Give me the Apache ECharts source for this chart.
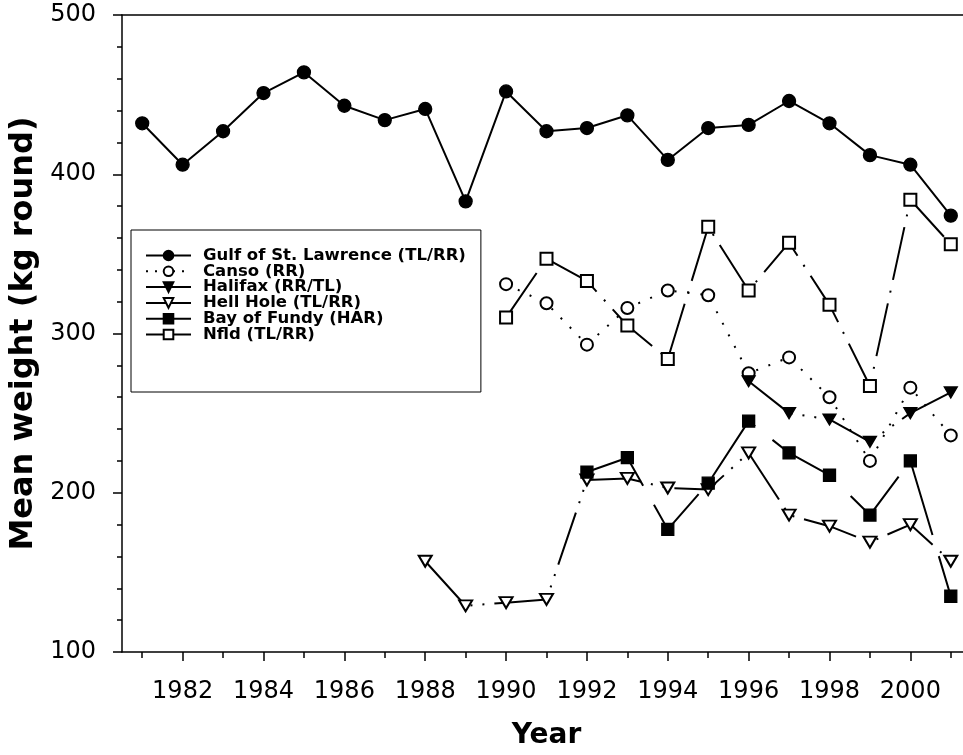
<!DOCTYPE html>
<html>
<head>
<meta charset="utf-8">
<script src="https://cdn.jsdelivr.net/npm/echarts@6/dist/echarts.min.js"></script>
<style>
  html, body { margin: 0; padding: 0; background: #fff; }
  #chart { width: 963px; height: 755px; }
</style>
</head>
<body>
<div id="chart"></div>
<script>
// values (mean weight, kg round)
const gulfYears = [1981, 1982, 1983, 1984, 1985, 1986, 1987, 1988, 1989, 1990, 1991, 1992, 1993, 1994, 1995, 1996, 1997, 1998, 1999, 2000, 2001]
const gulfWeight = [432, 406, 427, 451, 464, 443, 434, 441, 383, 452, 427, 429, 437, 409, 429, 431, 446, 432, 412, 406, 374]

const cansoYears = [1990, 1991, 1992, 1993, 1994, 1995, 1996, 1997, 1998, 1999, 2000, 2001]
const cansoWeight = [331, 319, 293, 316, 327, 324, 275, 285, 260, 220, 266, 236]

const halifaxYears = [1996, 1997, 1998, 1999, 2000, 2001]
const halifaxWeight = [270, 250, 246, 232, 250, 263]

const hellHoleYears = [1988, 1989, 1990, 1991, 1992, 1993, 1994, 1995, 1996, 1997, 1998, 1999, 2000, 2001]
const hellHoleWeight = [157, 129, 131, 133, 208, 209, 203, 202, 225, 186, 179, 169, 180, 157]

const fundyYears = [1992, 1993, 1994, 1995, 1996, 1997, 1998, 1999, 2000, 2001]
const fundyWeight = [213, 222, 177, 206, 245, 225, 211, 186, 220, 135]

const nfldYears = [1990, 1991, 1992, 1993, 1994, 1995, 1996, 1997, 1998, 1999, 2000, 2001]
const nfldWeight = [310, 347, 333, 305, 284, 367, 327, 357, 318, 267, 384, 356]

const labelYears = [1982, 1984, 1986, 1988, 1990, 1992, 1994, 1996, 1998, 2000]
const minorYears = [1981, 1983, 1985, 1987, 1989, 1991, 1993, 1995, 1997, 1999, 2001]

const pairs = (xs, ys) => xs.map((x, i) => [x, ys[i]])

const font = 'DejaVu Sans'
const black = '#000'

const lineSeries = (name, xs, ys, symbol, size, dash, extra) => Object.assign({
  name,
  type: 'line',
  data: pairs(xs, ys),
  symbol,
  symbolSize: size,
  showSymbol: true,
  color: black,
  itemStyle: { color: black, borderColor: black, borderWidth: 1.3 },
  lineStyle: { color: black, width: 2, type: dash },
  emphasis: { disabled: true },
  z: 2,
}, extra || {})

const chart = echarts.init(document.getElementById('chart'))

chart.setOption({
  animation: false,
  textStyle: { fontFamily: font, color: black },
  grid: { left: 122, top: 15, bottom: 103, right: -8, outerBoundsMode: 'none' },
  xAxis: [
    {
      type: 'value',
      position: 'bottom',
      min: 1980.5,
      max: 2001.5,
      name: 'Year',
      nameLocation: 'middle',
      nameGap: 70,
      nameTextStyle: { fontFamily: font, fontWeight: 'bold', fontSize: 28, color: black },
      axisLine: { lineStyle: { color: black, width: 1.5 } },
      axisTick: { customValues: labelYears, length: 9, lineStyle: { color: black, width: 1.5 } },
      axisLabel: { customValues: labelYears, fontSize: 24, color: black, margin: 28, formatter: (v) => String(v) },
      splitLine: { show: false },
    },
    {
      type: 'value',
      position: 'bottom',
      min: 1980.5,
      max: 2001.5,
      axisLine: { show: false },
      axisTick: { customValues: minorYears, length: 6, lineStyle: { color: black, width: 1.5 } },
      axisLabel: { show: false },
      splitLine: { show: false },
    },
    {
      type: 'value',
      position: 'top',
      min: 1980.5,
      max: 2001.5,
      axisLine: { lineStyle: { color: black, width: 1.5 } },
      axisTick: { show: false },
      axisLabel: { show: false },
      splitLine: { show: false },
    },
  ],
  yAxis: {
    type: 'value',
    min: 100,
    max: 500,
    interval: 100,
    name: 'Mean weight (kg round)',
    nameLocation: 'middle',
    nameGap: 72,
    nameRotate: 90,
    nameTextStyle: { fontFamily: font, fontWeight: 'bold', fontSize: 32, color: black },
    axisLine: { show: true, lineStyle: { color: black, width: 1.5 } },
    axisTick: { show: true, length: 9, lineStyle: { color: black, width: 1.5 } },
    minorTick: { show: true, splitNumber: 5, length: 5, lineStyle: { color: black, width: 1.5 } },
    axisLabel: { fontSize: 24, color: black, margin: 26 },
    splitLine: { show: false },
    minorSplitLine: { show: false },
  },
  legend: {
    orient: 'vertical',
    left: 131,
    top: 230,
    padding: [17, 15, 49, 14],
    borderColor: black,
    borderWidth: 1,
    itemWidth: 45,
    itemHeight: 12,
    itemGap: -1.2,
    selectedMode: false,
    textStyle: { fontFamily: font, fontWeight: 'bold', fontSize: 16.5, color: black, lineHeight: 15.6, padding: [0, 0, 0, 7] },
    data: [
      { name: 'Gulf of St. Lawrence (TL/RR)', lineStyle: { type: 'solid' } },
      { name: 'Canso (RR)', lineStyle: { type: [2, 7] } },
      { name: 'Halifax (RR/TL)', lineStyle: { type: 'solid' } },
      { name: 'Hell Hole (TL/RR)', lineStyle: { type: 'solid' } },
      { name: 'Bay of Fundy (HAR)', lineStyle: { type: 'solid' } },
      { name: 'Nfld (TL/RR)', lineStyle: { type: 'solid' } },
    ],
  },
  series: [
    lineSeries('Gulf of St. Lawrence (TL/RR)', gulfYears, gulfWeight, 'circle', 13, 'solid'),
    lineSeries('Canso (RR)', cansoYears, cansoWeight, 'emptyCircle', 12, [2, 11]),
    lineSeries('Halifax (RR/TL)', halifaxYears, halifaxWeight, 'triangle', [13, 11], [55, 10, 2, 10, 2, 10], { symbolRotate: 180 }),
    lineSeries('Hell Hole (TL/RR)', hellHoleYears, hellHoleWeight, 'emptyTriangle', [13, 11], [55, 10, 2, 10, 2, 10], { symbolRotate: 180 }),
    lineSeries('Bay of Fundy (HAR)', fundyYears, fundyWeight, 'rect', 12, [75, 22]),
    lineSeries('Nfld (TL/RR)', nfldYears, nfldWeight, 'emptyRect', 12, [54, 11, 2, 11]),
  ],
})
</script>
</body>
</html>
